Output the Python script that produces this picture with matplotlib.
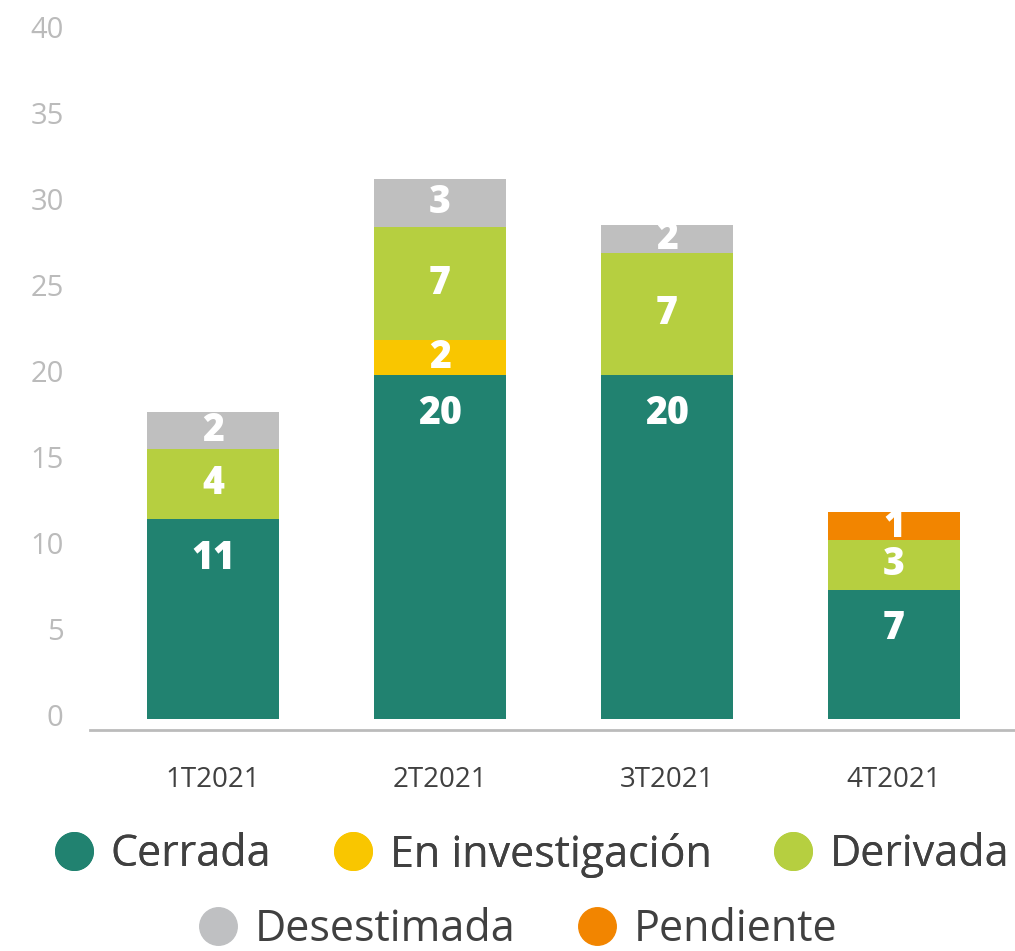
import numpy as np
import matplotlib.pyplot as plt
import matplotlib.transforms as mtransforms
from matplotlib.lines import Line2D

plt.rcParams['font.family'] = ['Open Sans', 'DejaVu Sans']

trimestres = ['1T2021', '2T2021', '3T2021', '4T2021']

cerrada = [11.6, 20.0, 20.0, 7.5]
investigacion = [0, 2.0, 0, 0]
derivada = [4.1, 6.6, 7.1, 2.9]
desestimada = [2.15, 2.8, 1.6, 0]
pendiente = [0, 0, 0, 1.6]

cerrada_lbl = ['11', '20', '20', '7']
investigacion_lbl = ['', '2', '', '']
derivada_lbl = ['4', '7', '7', '3']
desestimada_lbl = ['2', '3', '2', '']
pendiente_lbl = ['', '', '', '1']

nombres = ['Cerrada', 'En investigación', 'Derivada', 'Desestimada', 'Pendiente']
colores = ['#218270', '#F9C600', '#B6CF40', '#BFBFBF', '#F28500']

fig = plt.figure(figsize=(10.15, 9.51), dpi=100)
ax = fig.add_axes([90/1015, (951-730)/951, (1015-90)/1015, (730-13.5)/951])

x = np.arange(len(trimestres))
series = [cerrada, investigacion, derivada, desestimada, pendiente]
etiquetas = [cerrada_lbl, investigacion_lbl, derivada_lbl, desestimada_lbl, pendiente_lbl]
base = np.zeros(len(trimestres))
for i, (vals, lbls) in enumerate(zip(series, etiquetas)):
    vals = np.array(vals)
    ax.bar(x, vals, bottom=base, width=0.58, color=colores[i], linewidth=0)
    for j in range(len(x)):
        if lbls[j] == '':
            continue
        if i == 0:
            # la etiqueta de "Cerrada" va cerca del borde superior
            ax.annotate(lbls[j], (x[j], base[j] + vals[j]), xytext=(0, -28),
                        textcoords='offset points', ha='center', va='center',
                        color='white', fontsize=27, fontweight='heavy')
        else:
            ax.text(x[j], base[j] + vals[j] / 2, lbls[j], ha='center', va='center',
                    color='white', fontsize=27, fontweight='heavy')
    base = base + vals

ax.set_xlim(-0.542, 3.533)
ax.set_ylim(-0.657, 41)
ax.set_yticks(range(0, 41, 5))
ax.set_xticks(x)
ax.set_xticklabels(trimestres)
ax.tick_params(axis='y', length=0, pad=19, labelsize=21, labelcolor='#BBBBBB')
ax.tick_params(axis='x', length=0, pad=26, labelsize=20, labelcolor='#404040')
# etiquetas del eje y un poco mas arriba
subir = mtransforms.ScaledTranslation(0, 4/100, fig.dpi_scale_trans)
for t in ax.get_yticklabels():
    t.set_transform(t.get_transform() + subir)
for s in ['top', 'right', 'left']:
    ax.spines[s].set_visible(False)
ax.spines['bottom'].set_color('#BBBBBB')
ax.spines['bottom'].set_linewidth(2)

def handle(c):
    return Line2D([], [], marker='o', linestyle='', markersize=27,
                  markerfacecolor=c, markeredgecolor=c)

h1 = [handle(c) for c in colores[:3]]
h2 = [handle('#BFC0C2'), handle(colores[4])]
leg1 = fig.legend(h1, nombres[:3], loc='center', bbox_to_anchor=(532/1015, 1-855/951),
                  ncol=3, frameon=False, fontsize=31, handlelength=0.9,
                  handletextpad=0.4, columnspacing=1.45, labelcolor='#404040',
                  borderpad=0, borderaxespad=0)
fig.legend(h2, nombres[3:], loc='center', bbox_to_anchor=(518/1015, 1-930/951),
           ncol=2, frameon=False, fontsize=31, handlelength=0.9,
           handletextpad=0.4, columnspacing=1.45, labelcolor='#404040',
           borderpad=0, borderaxespad=0)
fig.add_artist(leg1)

fig.savefig('out.png', dpi=100)
